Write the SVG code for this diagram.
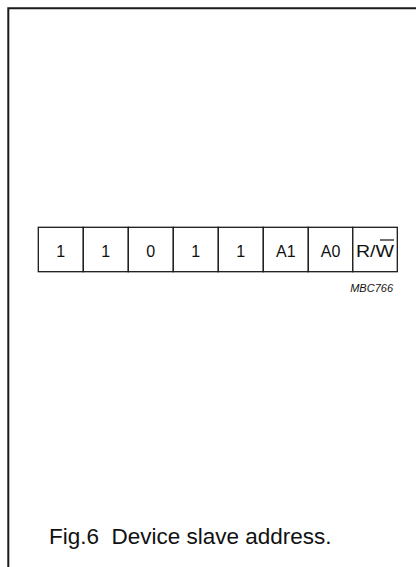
<svg xmlns="http://www.w3.org/2000/svg" width="416" height="567" viewBox="0 0 416 567">
<style>
.frame{fill:none;stroke:#1a1a1a;stroke-width:2}
.cell{fill:#fff;stroke:#1a1a1a;stroke-width:1.3}
.t{font-family:"Liberation Sans",Arial,sans-serif;font-size:16px;fill:#111;text-anchor:middle}
.lbl{font-family:"Liberation Sans",Arial,sans-serif;font-size:11px;font-style:italic;fill:#111;text-anchor:end}
.cap{font-family:"Liberation Sans",Arial,sans-serif;font-size:22.5px;fill:#111;white-space:pre}
</style>
<rect width="416" height="567" fill="#fff"/>
<path class="frame" d="M8.3,567 V8.3 H416"/>
<g id="register">
<g id="b7"><rect class="cell" x="38.3" y="227.3" width="45" height="44.4"/><text class="t" x="60.8" y="257">1</text></g>
<g id="b6"><rect class="cell" x="83.3" y="227.3" width="45" height="44.4"/><text class="t" x="105.8" y="257">1</text></g>
<g id="b5"><rect class="cell" x="128.3" y="227.3" width="45" height="44.4"/><text class="t" x="150.8" y="257">0</text></g>
<g id="b4"><rect class="cell" x="173.3" y="227.3" width="45" height="44.4"/><text class="t" x="195.8" y="257">1</text></g>
<g id="b3"><rect class="cell" x="218.3" y="227.3" width="45" height="44.4"/><text class="t" x="240.8" y="257">1</text></g>
<g id="b2"><rect class="cell" x="263.3" y="227.3" width="45" height="44.4"/><text class="t" x="285.8" y="257">A1</text></g>
<g id="b1"><rect class="cell" x="308.3" y="227.3" width="44.5" height="44.4"/><text class="t" x="330.5" y="257">A0</text></g>
<g id="b0"><rect class="cell" x="352.8" y="227.3" width="44.5" height="44.4"/><text class="t" x="375" y="257" textLength="38" lengthAdjust="spacingAndGlyphs">R/W</text><line x1="380" y1="240" x2="394" y2="240" stroke="#111" stroke-width="1.2"/></g>
</g>
<text class="lbl" x="393" y="292">MBC766</text>
<text class="cap" x="49" y="544" xml:space="preserve">Fig.6  Device slave address.</text>
</svg>
